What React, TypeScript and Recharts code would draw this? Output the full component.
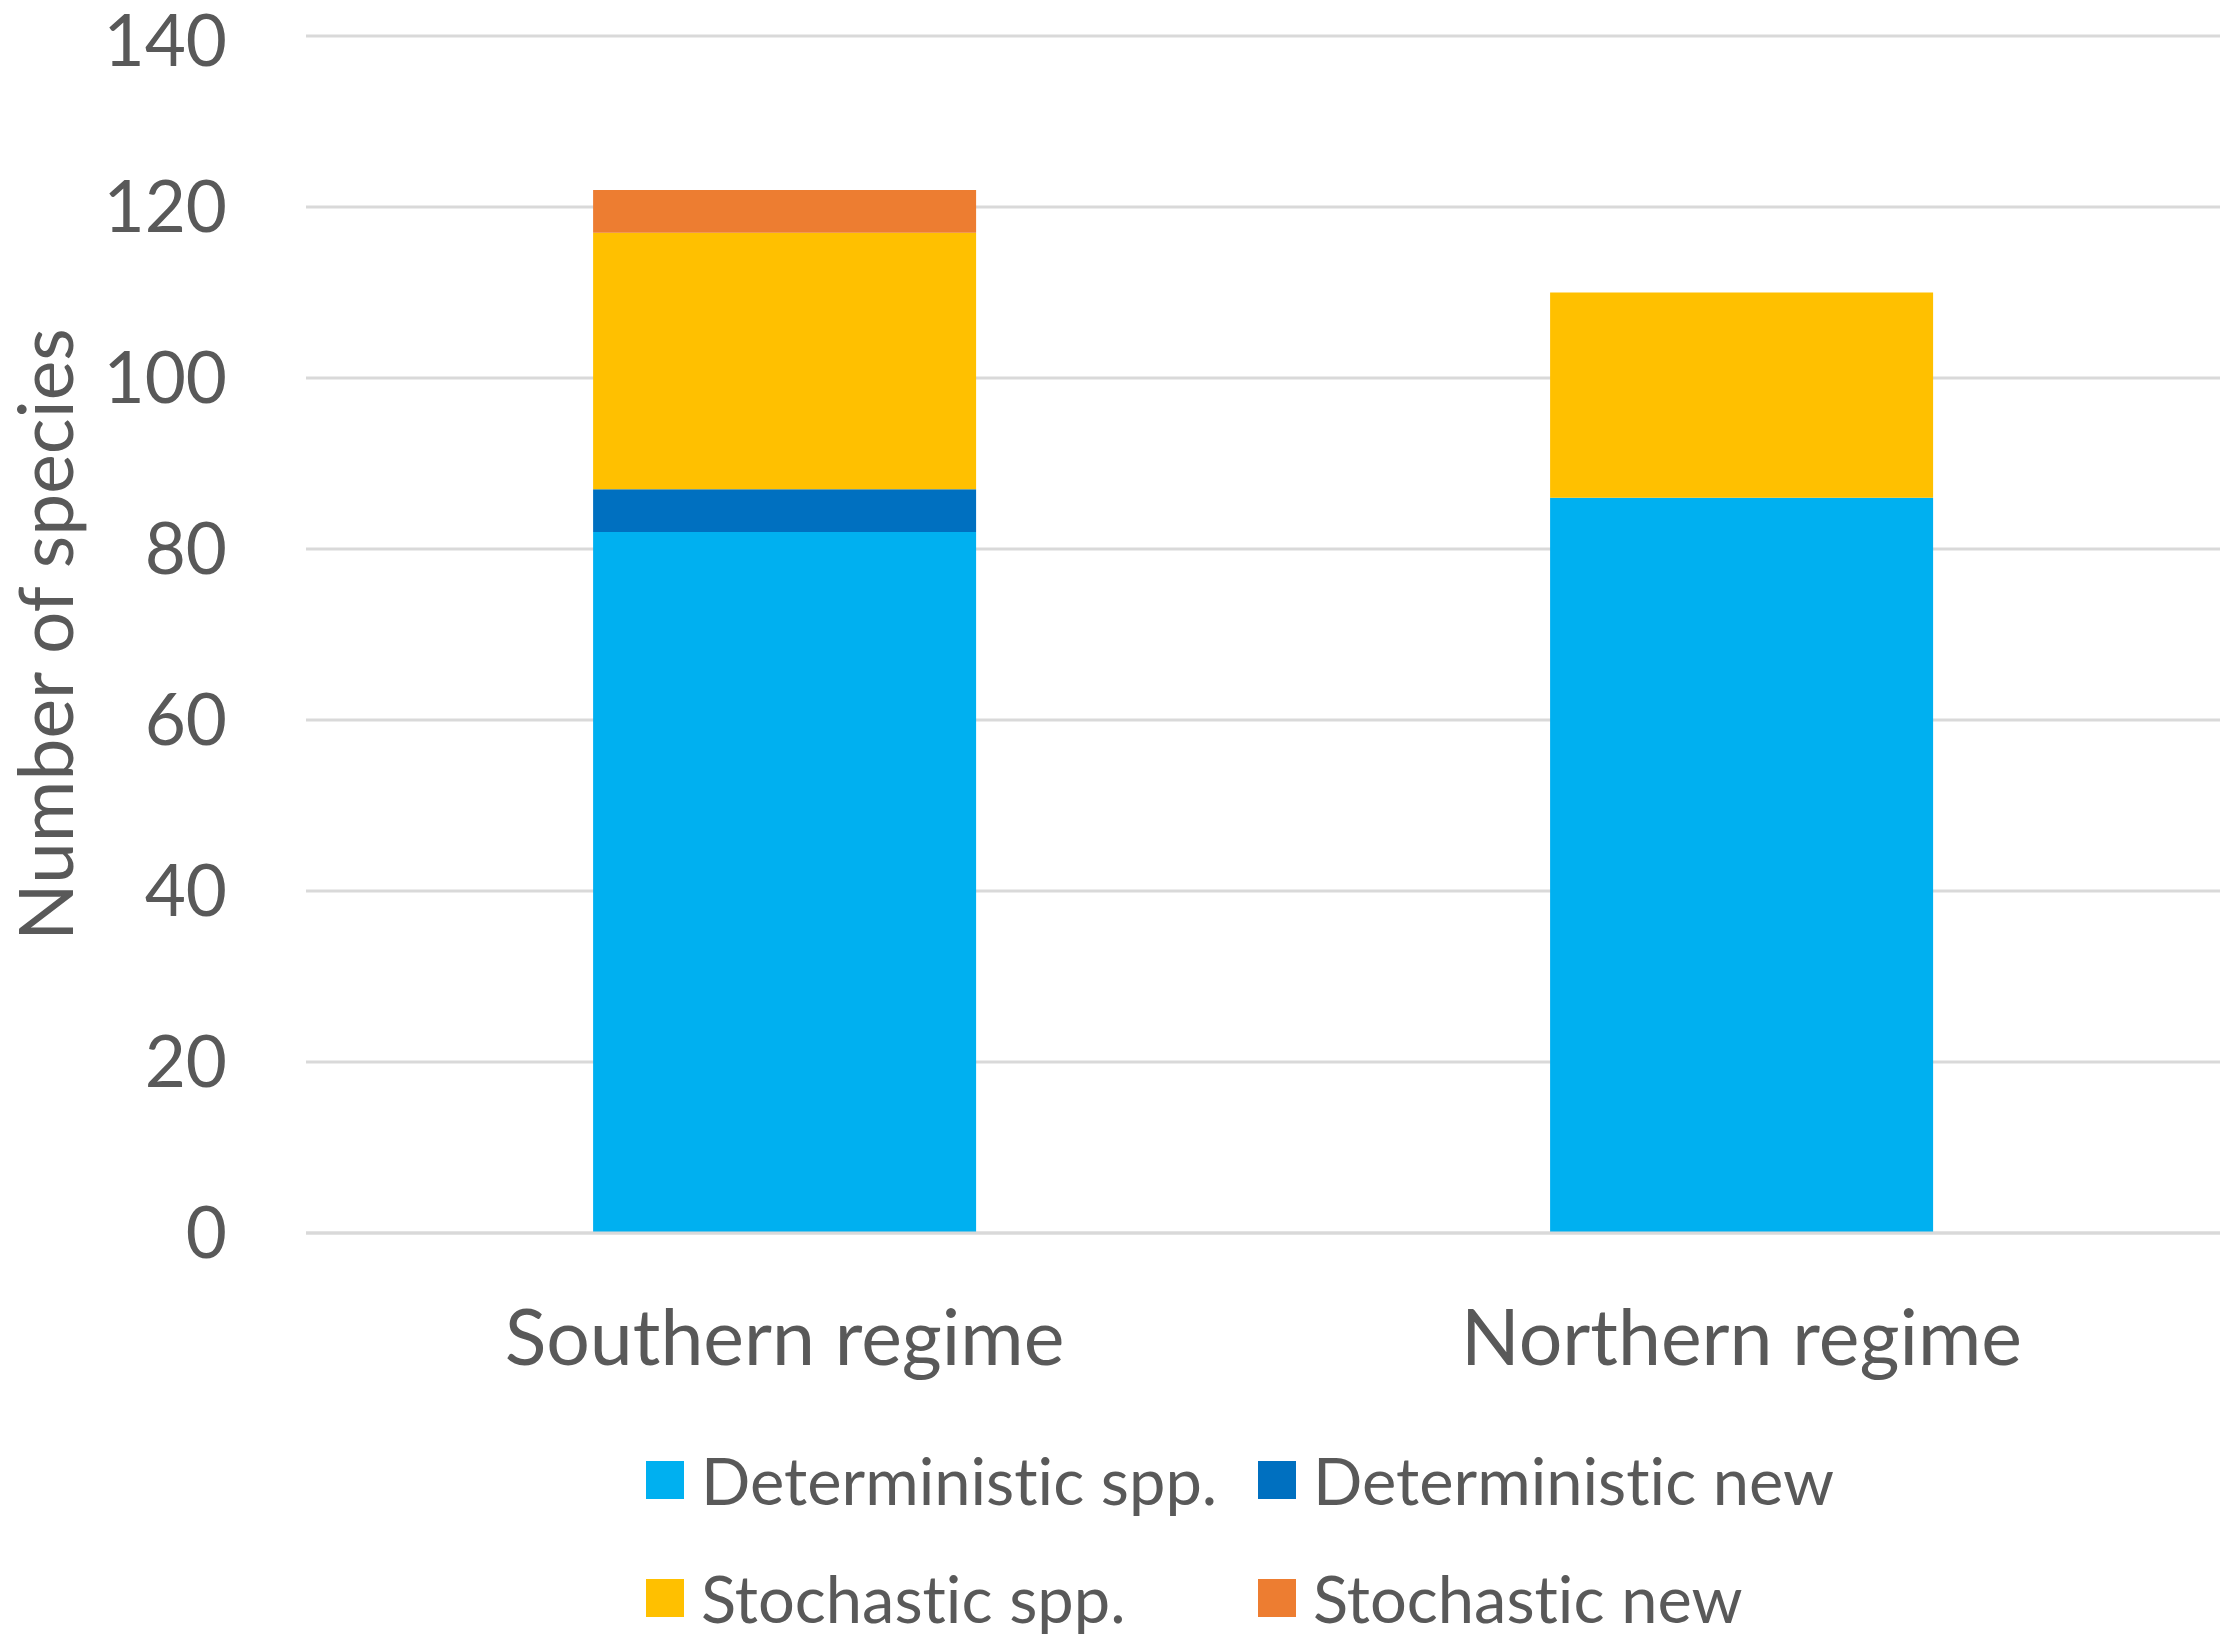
import React from 'react';
import { BarChart, Bar, XAxis, YAxis, CartesianGrid, Legend } from 'recharts';

const categories = ['Southern regime', 'Northern regime'];
const deterministicSpp = [82, 86];
const deterministicNew = [5, 0];
const stochasticSpp = [30, 24];
const stochasticNew = [5, 0];
const yTicks = [0, 20, 40, 60, 80, 100, 120, 140];

const seriesNames = ['Deterministic spp.', 'Deterministic new', 'Stochastic spp.', 'Stochastic new'];
const seriesKeys = ['detSpp', 'detNew', 'stoSpp', 'stoNew'];
const seriesColors = ['#00B0F0', '#0070C0', '#FFC000', '#ED7D31'];

const data = categories.map((c, i) => ({
  name: c,
  detSpp: deterministicSpp[i],
  detNew: deterministicNew[i],
  stoSpp: stochasticSpp[i],
  stoNew: stochasticNew[i],
}));

const FONT = 'Lato, "Open Sans", sans-serif';
const TEXT = '#595959';
const NOLIG: any = { fontVariantLigatures: 'none', fontFeatureSettings: '"liga" 0, "clig" 0' };

const XTick = (props: any) => {
  const { x, y, payload } = props;
  return (
    <text x={x} y={y + 130} textAnchor="middle" fill={TEXT} fontSize={77} fontFamily={FONT} style={NOLIG}>
      {payload.value}
    </text>
  );
};

const LegendContent = () => {
  const rows = [
    [0, 1],
    [2, 3],
  ];
  return (
    <div style={{ width: 2228, fontFamily: FONT, color: TEXT, fontSize: 65, ...NOLIG }}>
      {rows.map((r, ri) => (
        <div key={ri} style={{ display: 'flex', height: 118, alignItems: 'center', paddingLeft: 646 }}>
          {r.map((si) => (
            <div key={si} style={{ display: 'flex', alignItems: 'center', width: 612 }}>
              <div style={{ width: 38, height: 38, background: seriesColors[si], marginRight: 17 }} />
              <span style={{ lineHeight: 1, whiteSpace: 'nowrap' }}>{seriesNames[si]}</span>
            </div>
          ))}
        </div>
      ))}
    </div>
  );
};

const YLabel = (props: any) => {
  const { viewBox } = props;
  const cy = viewBox.y + viewBox.height / 2;
  const cx = 44;
  return (
    <text
      x={cx}
      y={cy}
      transform={`rotate(-90, ${cx}, ${cy})`}
      textAnchor="middle"
      dominantBaseline="central"
      fill={TEXT}
      fontSize={75}
      fontFamily={FONT}
      style={NOLIG}
    >
      Number of species
    </text>
  );
};

export default function App() {
  return (
    <div style={{ position: 'absolute', left: 0, top: 0, width: 2228, height: 1643, background: '#fff' }}>
      <BarChart
        width={2228}
        height={1643}
        data={data}
        margin={{ top: 36, right: 8, bottom: 0, left: 0 }}
        barCategoryGap="30%"
      >
        <CartesianGrid vertical={false} stroke="#D9D9D9" strokeWidth={3} />
        <XAxis
          dataKey="name"
          height={1643 - 1233}
          axisLine={{ stroke: '#D9D9D9', strokeWidth: 3 }}
          tickLine={false}
          tickSize={0}
          tick={<XTick />}
          interval={0}
        />
        <YAxis
          width={306}
          domain={[0, 140]}
          ticks={yTicks}
          axisLine={false}
          tickLine={false}
          tickSize={0}
          tickMargin={79}
          tick={{ fill: TEXT, fontSize: 71, fontFamily: FONT }}
          label={<YLabel />}
        />
        <Legend
          layout="horizontal"
          verticalAlign="middle"
          wrapperStyle={{ left: 0, top: 1421, width: 2228 }}
          content={<LegendContent />}
        />
        {seriesKeys.map((k, i) => (
          <Bar key={k} dataKey={k} name={seriesNames[i]} stackId="a" fill={seriesColors[i]} isAnimationActive={false} />
        ))}
      </BarChart>
    </div>
  );
}
